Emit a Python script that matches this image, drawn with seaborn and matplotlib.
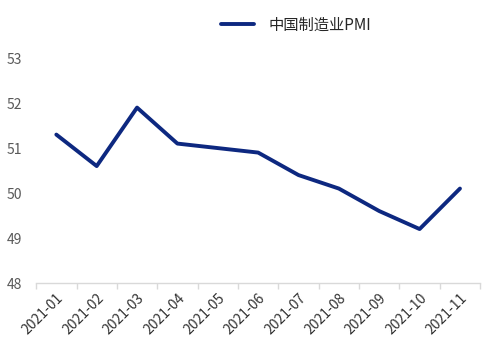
import pandas as pd
import seaborn as sns
import matplotlib.pyplot as plt
from matplotlib.ticker import FixedLocator

# China manufacturing PMI, 2021
months = ['2021-01', '2021-02', '2021-03', '2021-04', '2021-05', '2021-06',
          '2021-07', '2021-08', '2021-09', '2021-10', '2021-11']
pmi = [51.3, 50.6, 51.9, 51.1, 51.0, 50.9, 50.4, 50.1, 49.6, 49.2, 50.1]
series_name = '中国制造业PMI'

df = pd.DataFrame({'month': months, 'pmi': pmi})
df['pos'] = range(len(df))

sns.set_style('white')
plt.rcParams['font.family'] = ['Noto Sans CJK SC', 'DejaVu Sans']

fig = plt.figure(figsize=(4.95, 3.61), dpi=100)
ax = fig.add_axes([0.073, 0.216, 0.897, 0.623])

sns.lineplot(data=df, x='pos', y='pmi', color='#0d2880', linewidth=2.8,
             label=series_name, ax=ax)

ax.set_xlim(-0.5, len(df) - 0.5)
ax.set_ylim(48, 53)
ax.set_yticks([48, 49, 50, 51, 52, 53])
ax.set_xticks(df['pos'])
ax.set_xticklabels(df['month'], rotation=45, ha='right', rotation_mode='anchor')
ax.xaxis.set_minor_locator(FixedLocator([i - 0.5 for i in range(len(df) + 1)]))
ax.tick_params(axis='x', which='major', length=0, pad=6, labelsize=10, labelcolor='#333333')
ax.tick_params(axis='x', which='minor', bottom=True, length=4, color='#d9d9d9', width=1)
ax.tick_params(axis='y', length=0, labelsize=10, labelcolor='#595959', pad=10)
ax.set_xlabel('')
ax.set_ylabel('')

for s in ['top', 'right', 'left']:
    ax.spines[s].set_visible(False)
ax.spines['bottom'].set_color('#d9d9d9')
ax.spines['bottom'].set_linewidth(1)

ax.legend(loc='center', bbox_to_anchor=(0.585, 1.146), frameon=False, fontsize=11,
          handlelength=2.2, handletextpad=0.9)

fig.savefig('out.png', dpi=100)
